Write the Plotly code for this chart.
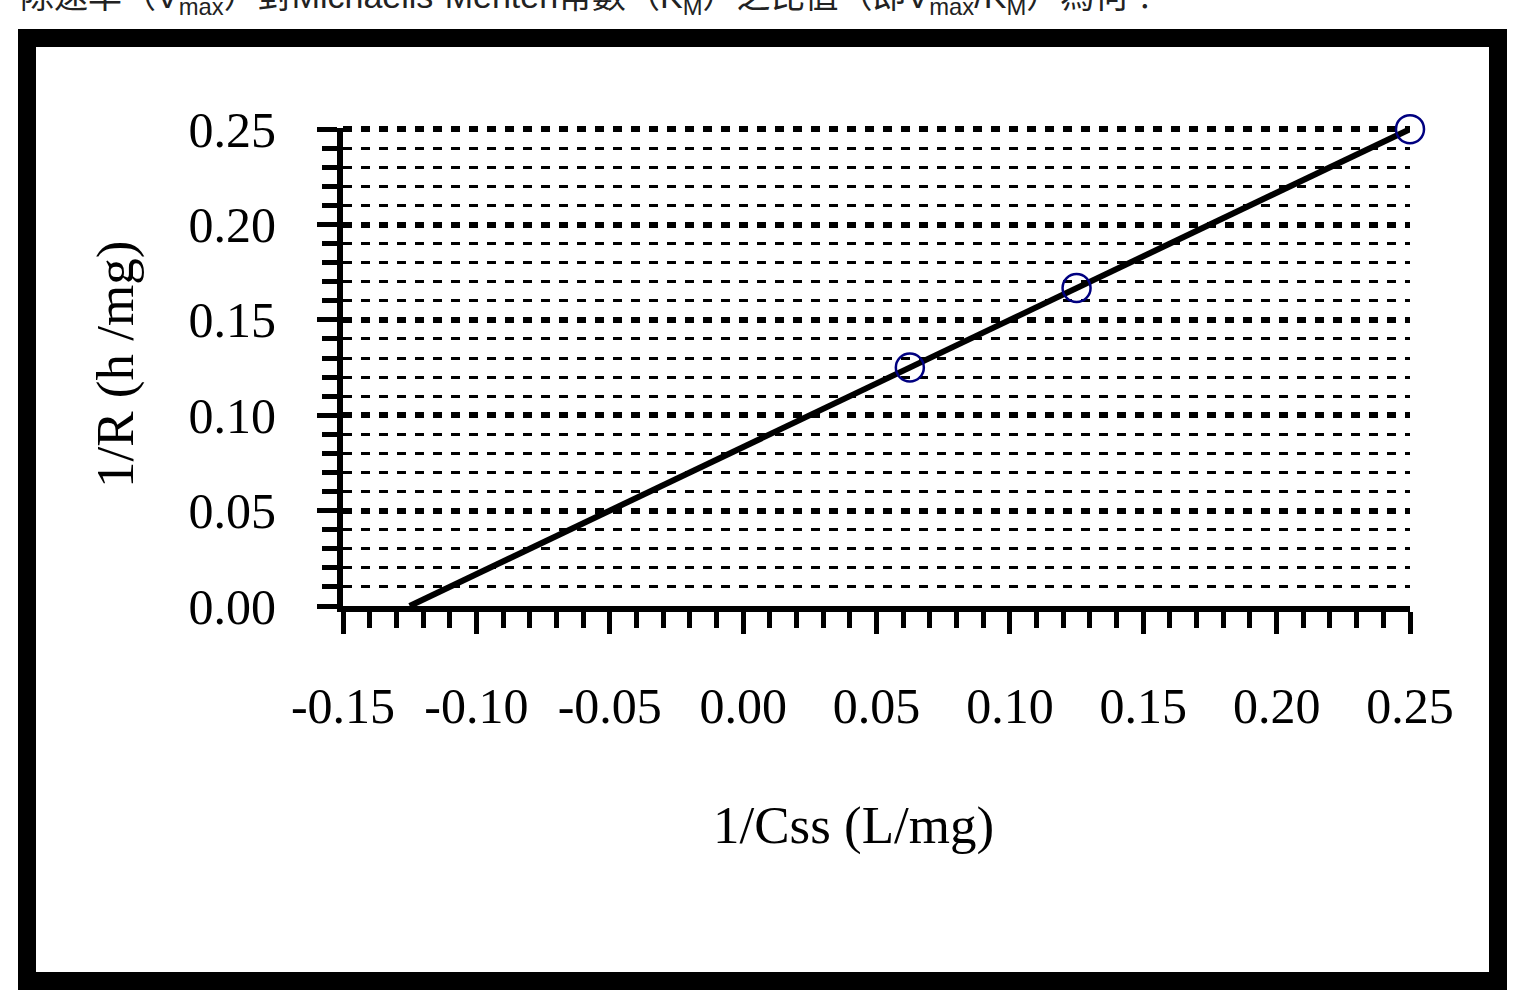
import plotly.graph_objects as go

# ---- data ----
x_points = [0.0625, 0.125, 0.25]
y_points = [0.125, 0.1667, 0.25]
fit_x = [-0.125, 0.25]
fit_y = [0.0, 0.25]

x_tickvals = [-0.15, -0.10, -0.05, 0.00, 0.05, 0.10, 0.15, 0.20, 0.25]
x_ticktext = ["-0.15", "-0.10", "-0.05", "0.00", "0.05", "0.10", "0.15", "0.20", "0.25"]
y_tickvals = [0.00, 0.05, 0.10, 0.15, 0.20, 0.25]
y_ticktext = ["0.00", "0.05", "0.10", "0.15", "0.20", "0.25"]

x_title = "1/Css (L/mg)"
y_title = "1/R (h /mg)"
top_text = ("除速率（V<sub>max</sub>）對Michaelis-Menten常數（K<sub>M</sub>）之比值"
            "（即V<sub>max</sub>/K<sub>M</sub>）為何？")

W, H = 1523, 997
L, R, T, B = 343, 1410, 128, 606
pw, ph = R - L, B - T

def px(x):
    return (x - L) / pw

def py(y):
    return (B - y) / ph

SERIF = "Liberation Serif, Times New Roman, serif"

fig = go.Figure()
fig.add_trace(go.Scatter(
    x=fit_x, y=fit_y, mode="lines",
    line=dict(color="black", width=6),
    cliponaxis=False, showlegend=False, hoverinfo="skip"))
fig.add_trace(go.Scatter(
    x=x_points, y=y_points, mode="markers",
    marker=dict(symbol="circle-open", size=28, color="#000080",
                line=dict(color="#000080", width=2.5)),
    cliponaxis=False, showlegend=False))

fig.update_layout(
    width=W, height=H,
    margin=dict(l=L, r=W - R, t=T, b=H - B, pad=0),
    paper_bgcolor="white", plot_bgcolor="white",
    font=dict(family=SERIF, size=50, color="black"),
    xaxis=dict(
        range=[-0.15, 0.25], showgrid=False, zeroline=False,
        showline=True, linecolor="black", linewidth=6,
        ticks="outside", ticklen=22, tickwidth=5, tickcolor="black",
        tickmode="array", tickvals=x_tickvals, ticktext=x_ticktext,
        ticklabelstandoff=29,
        tickfont=dict(family=SERIF, size=50, color="black"),
        minor=dict(dtick=0.01, tick0=0, ticks="outside", ticklen=16,
                   tickwidth=5, tickcolor="black", showgrid=False),
    ),
    yaxis=dict(
        range=[0, 0.2506], zeroline=False,
        showline=True, linecolor="black", linewidth=6,
        ticks="outside", ticklen=20, tickwidth=5, tickcolor="black",
        tickmode="array", tickvals=y_tickvals, ticktext=y_ticktext,
        ticklabelstandoff=31,
        tickfont=dict(family=SERIF, size=50, color="black"),
        showgrid=True, gridcolor="black", gridwidth=6, griddash="9px,9px",
        minor=dict(dtick=0.01, tick0=0, ticks="outside", ticklen=15,
                   tickwidth=5, tickcolor="black",
                   showgrid=True, gridcolor="black", gridwidth=3,
                   griddash="9px,9px"),
    ),
    shapes=[dict(type="rect", xref="paper", yref="paper",
                 x0=px(27), x1=px(1498), y0=py(981), y1=py(38),
                 line=dict(color="black", width=18), fillcolor="rgba(0,0,0,0)",
                 layer="above")],
    annotations=[
        dict(text=x_title, xref="paper", yref="paper", x=px(853), y=py(825),
             xanchor="center", yanchor="middle", showarrow=False,
             font=dict(family=SERIF, size=53, color="black")),
        dict(text=y_title, xref="paper", yref="paper", x=px(115), y=py(365),
             xanchor="center", yanchor="middle", showarrow=False, textangle=-90,
             font=dict(family=SERIF, size=53, color="black")),
        dict(text=top_text, xref="paper", yref="paper", x=px(18), y=py(22),
             xanchor="left", yanchor="bottom", showarrow=False,
             font=dict(family="Liberation Sans, Noto Sans CJK TC, sans-serif",
                       size=34, color="#222222")),
    ],
)

fig.write_html("out.html")
